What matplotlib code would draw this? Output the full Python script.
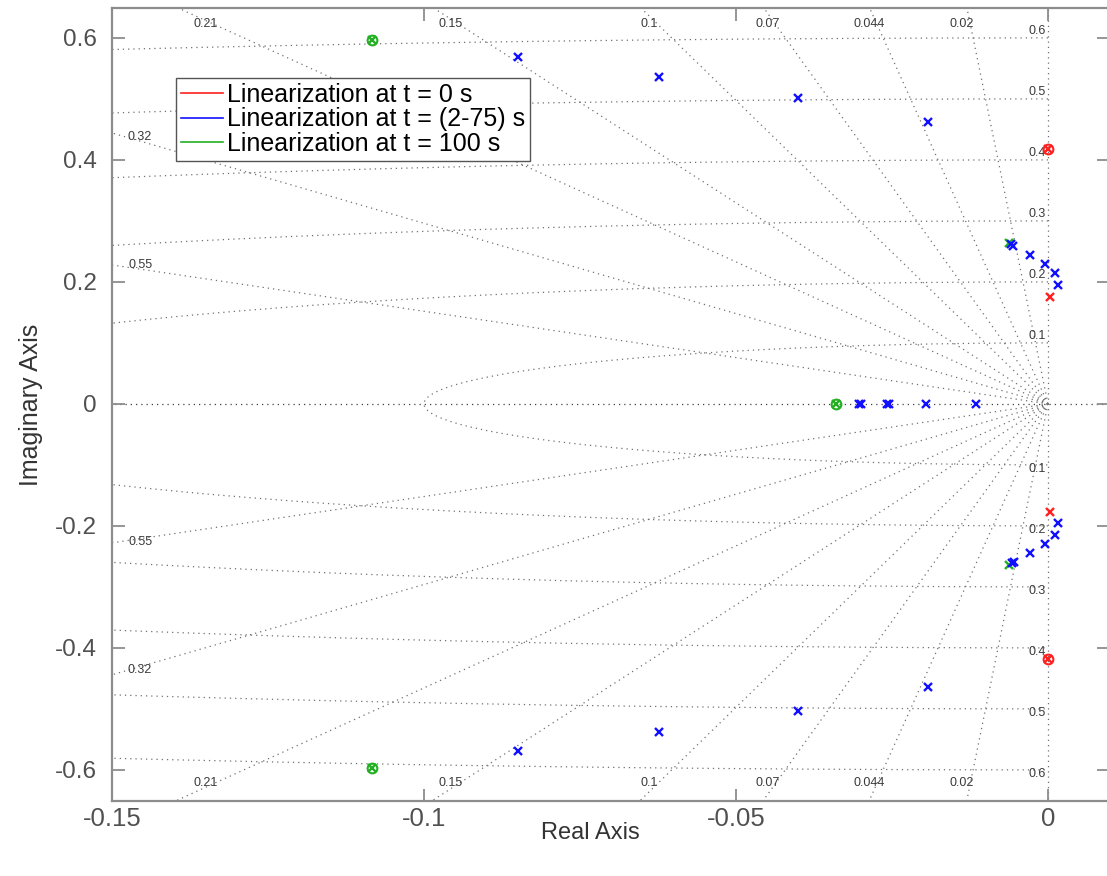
import numpy as np
import matplotlib
matplotlib.use("Agg")
import matplotlib.pyplot as plt
from matplotlib.lines import Line2D

plt.rcParams['font.family'] = ['Liberation Sans', 'DejaVu Sans']

# ---------------- data ----------------
# t = 0 s (red)
red_pole_re = [0.0003, 0.0003, 0.00005, 0.00005]
red_pole_im = [0.176, -0.1765, 0.418, -0.418]
red_zero_re = [0.00005, 0.00005]
red_zero_im = [0.418, -0.418]

# t = (2-75) s (blue)
blue_pole_re = [-0.0850, -0.0623, -0.0401, -0.0192, -0.00556, -0.0060, -0.00284, -0.00043, 0.00117, 0.0016,
                -0.0850, -0.0623, -0.0401, -0.0192, -0.0058, -0.0054, -0.00284, -0.00043, 0.00117, 0.0016,
                -0.0303, -0.0299, -0.0258, -0.0254, -0.0196, -0.0116]
blue_pole_im = [0.5684, 0.5366, 0.502, 0.4628, 0.2595, 0.2615, 0.2448, 0.2295, 0.2142, 0.195,
                -0.5694, -0.5372, -0.5027, -0.4634, -0.2607, -0.2595, -0.2448, -0.2295, -0.2153, -0.195,
                0.0, 0.0, 0.0, 0.0, 0.0, 0.0]

# t = 100 s (green)
green_pole_re = [-0.1084, -0.1084, -0.0062, -0.0062, -0.0340]
green_pole_im = [0.597, -0.597, 0.2635, -0.264, 0.0]
green_zero_re = [-0.1084, -0.1084, -0.0340]
green_zero_im = [0.597, -0.597, 0.0]

# s-plane grid
zeta_values = [0.02, 0.044, 0.07, 0.1, 0.15, 0.21, 0.32, 0.55]
zeta_top_labels = ['0.02', '0.044', '0.07', '0.1', '0.15', '0.21']
zeta_left_labels = ['0.32', '0.55']
wn_values = [0.1, 0.2, 0.3, 0.4, 0.5, 0.6]
wn_labels = ['0.1', '0.2', '0.3', '0.4', '0.5', '0.6']

legend_labels = ['Linearization at t = 0 s', 'Linearization at t = (2-75) s',
                 'Linearization at t = 100 s']

xticks = [-0.15, -0.1, -0.05, 0]
xtick_labels = ['-0.15', '-0.1', '-0.05', '0']
yticks = [-0.6, -0.4, -0.2, 0, 0.2, 0.4, 0.6]
ytick_labels = ['-0.6', '-0.4', '-0.2', '0', '0.2', '0.4', '0.6']

# ---------------- figure ----------------
fig = plt.figure(figsize=(11.07, 8.76), dpi=100)
ax = fig.add_axes([112 / 1107, 75 / 876, 997 / 1107, 793 / 876])
XMIN, XMAX, YMIN, YMAX = -0.15, 0.00978, -0.651, 0.649
ax.set_xlim(XMIN, XMAX)
ax.set_ylim(YMIN, YMAX)

gcol = '#707070'
gls = (0, (1, 3.2))
glw = 0.9
R = 2.0
# damping ratio lines
for z in zeta_values:
    th = np.arccos(z)
    for sgn in (1, -1):
        ax.plot([0, -R * np.cos(th)], [0, sgn * R * np.sin(th)], color=gcol, ls=gls, lw=glw, zorder=1)
# real and imaginary axes (zeta = 1, zeta = 0)
ax.plot([-R, R], [0, 0], color='#404040', ls=gls, lw=glw, zorder=1)
ax.plot([0, 0], [-R, R], color=gcol, ls=gls, lw=glw, zorder=1)
# natural frequency arcs
phi = np.linspace(np.pi / 2, 3 * np.pi / 2, 2000)
for w in wn_values:
    ax.plot(w * np.cos(phi), w * np.sin(phi), color=gcol, ls=gls, lw=glw, zorder=1)

# grid labels
lab_kw = dict(fontsize=9, color='#3a3a3a', zorder=2)
for z, lab in zip(zeta_values, zeta_top_labels + zeta_left_labels):
    slope = np.sqrt(1 - z ** 2) / z
    if lab in zeta_top_labels:
        for yl in (0.622, -0.622):
            xl = -abs(yl) / slope
            ax.annotate(lab, (xl, yl), xytext=(-6, 0), textcoords='offset points',
                        ha='center', va='center', **lab_kw)
    else:
        xl = -0.1455
        for sgn in (1, -1):
            yl = sgn * (-xl * slope + 0.006)
            ax.text(xl, yl, lab, ha='center', va='center', **lab_kw)
for w, lab in zip(wn_values, wn_labels):
    ax.text(-0.0003, w + 0.011, lab, ha='right', va='center', **lab_kw)
    ax.text(-0.0003, -w - 0.007, lab, ha='right', va='center', **lab_kw)

# ---------------- poles / zeros ----------------
RED, BLUE, GREEN = '#ff2020', '#1010ff', '#22b022'
ms_x, mew_x = 5.5, 1.7
ms_o = 7.0
ax.plot(blue_pole_re, blue_pole_im, ls='none', marker='x', ms=ms_x, mew=mew_x, color=BLUE, zorder=4)
ax.plot(green_pole_re, green_pole_im, ls='none', marker='x', ms=ms_x, mew=mew_x, color=GREEN, zorder=3)
ax.plot(green_zero_re, green_zero_im, ls='none', marker='o', ms=ms_o, mew=1.5, mfc='none', color=GREEN, zorder=3)
ax.plot(red_pole_re, red_pole_im, ls='none', marker='x', ms=ms_x, mew=mew_x, color=RED, zorder=5)
ax.plot(red_zero_re, red_zero_im, ls='none', marker='o', ms=ms_o, mew=1.5, mfc='none', color=RED, zorder=5)

# ---------------- axes styling ----------------
spine_col = '#8c8c8c'
for s in ax.spines.values():
    s.set_color(spine_col)
    s.set_linewidth(1.6)
ax.set_xticks(xticks)
ax.set_xticklabels(xtick_labels)
ax.set_yticks(yticks)
ax.set_yticklabels(ytick_labels)
ax.tick_params(direction='in', length=9, width=1.3, color=spine_col,
               labelcolor='#505050', top=True, right=True)
ax.tick_params(axis='y', pad=11, labelsize=17.5)
ax.tick_params(axis='x', pad=4, labelsize=18.5)
ax.set_xlabel('Real Axis', fontsize=17, color='#333333')
ax.set_ylabel('Imaginary Axis', fontsize=18, color='#333333')
ax.xaxis.set_label_coords(0.48, -0.026)
ax.yaxis.set_label_coords(-0.069, 0.5)

handles = [Line2D([], [], color=RED, lw=1.2),
           Line2D([], [], color=BLUE, lw=1.2),
           Line2D([], [], color=GREEN, lw=1.2)]
leg = ax.legend(handles, legend_labels, loc='upper left', bbox_to_anchor=(0.064, 0.912),
                fontsize=18, frameon=True, fancybox=False, framealpha=1,
                edgecolor='#555555', borderpad=0.2, labelspacing=0.02,
                handlelength=1.7, handletextpad=0.15, borderaxespad=0)
leg.get_frame().set_linewidth(1.0)
leg.set_zorder(10)

fig.savefig('out.png', dpi=100)
